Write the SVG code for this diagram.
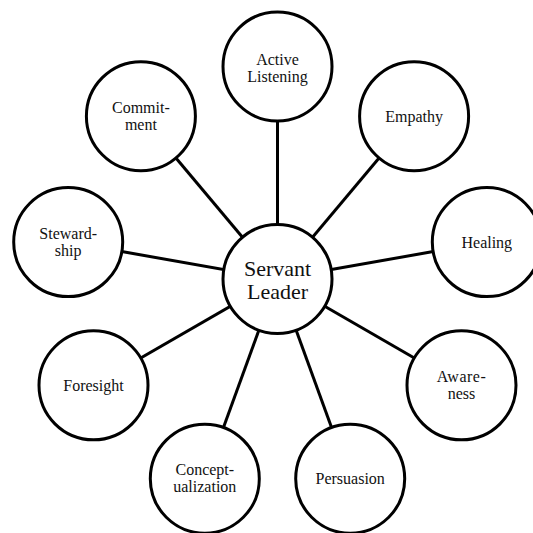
<svg xmlns="http://www.w3.org/2000/svg" width="533" height="533" viewBox="0 0 533 533">
<style>
.n{fill:#fff;stroke:#000;stroke-width:3}
.c{stroke:#000;stroke-width:3}
.t{font-size:16px;fill:#111;text-anchor:middle}
.big{font-size:22px}
</style>
<rect width="533" height="533" fill="#fff"/>
<g id="connectors">
<line class="c" x1="277.5" y1="279" x2="277.5" y2="66.5"/>
<line class="c" x1="277.5" y1="279" x2="414.1" y2="116.2"/>
<line class="c" x1="277.5" y1="279" x2="486.8" y2="242.1"/>
<line class="c" x1="277.5" y1="279" x2="461.5" y2="385.3"/>
<line class="c" x1="277.5" y1="279" x2="350.2" y2="478.7"/>
<line class="c" x1="277.5" y1="279" x2="204.8" y2="478.7"/>
<line class="c" x1="277.5" y1="279" x2="93.5" y2="385.3"/>
<line class="c" x1="277.5" y1="279" x2="68.2" y2="242.1"/>
<line class="c" x1="277.5" y1="279" x2="140.9" y2="116.2"/>
</g>
<g font-family="'Liberation Serif', Tinos, 'Times New Roman', Times, 'DejaVu Serif', serif">
<g id="servant-leader">
<circle class="n" cx="277.5" cy="279" r="54.5"/>
<text class="t big" x="277.5" y="276">Servant</text>
<text class="t big" x="277.5" y="299">Leader</text>
</g>
<g id="active-listening">
<circle class="n" cx="277.5" cy="66.5" r="54.5"/>
<text class="t" x="277.5" y="65">Active</text>
<text class="t" x="277.5" y="82">Listening</text>
</g>
<g id="empathy">
<circle class="n" cx="414.1" cy="116.2" r="54.5"/>
<text class="t" x="414.1" y="122">Empathy</text>
</g>
<g id="healing">
<circle class="n" cx="486.8" cy="242.1" r="54.5"/>
<text class="t" x="486.8" y="248">Healing</text>
</g>
<g id="awareness">
<circle class="n" cx="461.5" cy="385.3" r="54.5"/>
<text class="t" x="461.5" y="382" letter-spacing="0.5">Aware-</text>
<text class="t" x="461.5" y="399">ness</text>
</g>
<g id="persuasion">
<circle class="n" cx="350.2" cy="478.7" r="54.5"/>
<text class="t" x="350.2" y="484">Persuasion</text>
</g>
<g id="conceptualization">
<circle class="n" cx="204.8" cy="478.7" r="54.5"/>
<text class="t" x="204.8" y="475">Concept-</text>
<text class="t" x="204.8" y="492">ualization</text>
</g>
<g id="foresight">
<circle class="n" cx="93.5" cy="385.3" r="54.5"/>
<text class="t" x="93.5" y="391">Foresight</text>
</g>
<g id="stewardship">
<circle class="n" cx="68.2" cy="242.1" r="54.5"/>
<text class="t" x="68.2" y="239">Steward-</text>
<text class="t" x="68.2" y="256">ship</text>
</g>
<g id="commitment">
<circle class="n" cx="140.9" cy="116.2" r="54.5"/>
<text class="t" x="140.9" y="113">Commit-</text>
<text class="t" x="140.9" y="130">ment</text>
</g>
</g>
</svg>
